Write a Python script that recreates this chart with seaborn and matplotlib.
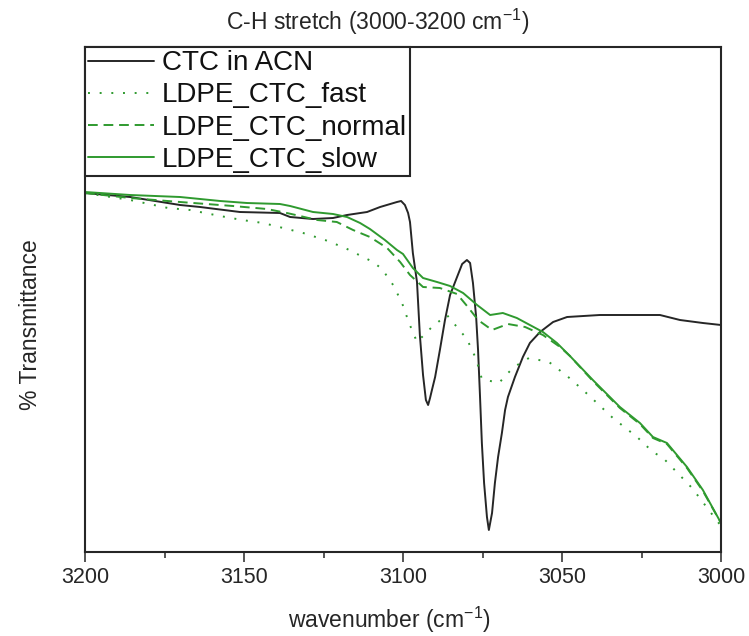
import numpy as np
import pandas as pd
import matplotlib
matplotlib.use("Agg")
import matplotlib.pyplot as plt
import seaborn as sns
from matplotlib.ticker import MultipleLocator

# ---------------- data ----------------
wn_ctc = [3200, 3185.8, 3170.1, 3163.8, 3151.3, 3138.7, 3135.5, 3128.3, 3122.0, 3117.6,
          3111.3, 3107.2, 3101.9, 3100.6, 3099.4, 3098.4, 3097.8, 3096.9, 3095.6, 3094.7,
          3093.7, 3092.8, 3092.1, 3091.5, 3090.9, 3089.9, 3088.4, 3086.8, 3085.2, 3083.0,
          3081.4, 3079.9, 3078.9, 3078.0, 3077.0, 3076.4, 3075.8, 3075.2, 3074.5, 3073.6,
          3073.0, 3072.0, 3071.1, 3070.1, 3068.9, 3067.9, 3067.0, 3064.8, 3062.3, 3060.1,
          3056.9, 3052.8, 3048.4, 3038.1, 3019.2, 3012.9, 3005.7, 3000]
t_ctc = [71.0, 70.2, 68.6, 68.2, 67.2, 67.0, 66.2, 65.8, 66.0, 66.6,
         67.2, 68.2, 69.2, 69.4, 68.6, 67.0, 65.2, 59.0, 53.2, 42.6,
         34.6, 29.6, 28.6, 30.0, 31.6, 34.2, 39.6, 45.6, 50.6, 54.2,
         56.8, 57.6, 57.0, 53.0, 46.2, 39.6, 30.6, 21.0, 13.0, 6.2,
         3.6, 7.0, 13.0, 18.2, 23.0, 27.6, 30.2, 34.2, 38.2, 41.0,
         43.2, 45.2, 46.2, 46.6, 46.6, 45.6, 45.0, 44.6]

wn_fast = [3200, 3185.8, 3173.9, 3167.0, 3157.5, 3150.6, 3144.0, 3137.7, 3131.4, 3124.5,
           3118.2, 3109.4, 3106.6, 3103.1, 3100.3, 3098.1, 3095.6, 3090.9, 3086.2, 3079.9,
           3077.0, 3075.2, 3069.8, 3067.9, 3065.1, 3060.4, 3054.1, 3048.4, 3043.4, 3039.0,
           3034.0, 3026.4, 3021.4, 3018.2, 3009.1, 3000]
t_fast = [71.0, 69.6, 68.0, 67.6, 66.4, 65.6, 65.0, 64.0, 63.0, 61.6,
          60.0, 57.2, 55.8, 52.6, 49.0, 45.0, 41.2, 44.2, 46.6, 41.8,
          37.8, 33.8, 33.0, 34.4, 36.2, 38.0, 37.2, 34.4, 31.6, 29.0,
          26.0, 22.2, 19.2, 18.0, 12.0, 4.4]

wn_normal = [3200, 3185.8, 3170.1, 3153.5, 3142.8, 3136.5, 3132.4, 3127.0, 3120.8, 3115.7,
             3110.4, 3105.0, 3100.9, 3097.8, 3093.7, 3088.4, 3083.0, 3079.6, 3076.4, 3072.0,
             3067.0, 3061.6, 3056.0, 3050.6, 3047.5, 3040.3, 3031.8, 3025.5, 3021.4, 3017.0,
             3010.7, 3005.7, 3000]
t_normal = [71.0, 70.0, 69.2, 68.4, 67.8, 67.0, 66.4, 65.6, 65.2, 63.6,
            62.2, 60.0, 57.2, 54.6, 52.2, 52.0, 50.8, 48.2, 45.6, 43.6,
            44.8, 44.2, 42.6, 40.2, 38.4, 33.4, 28.0, 24.8, 22.0, 20.8,
            16.0, 11.4, 5.0]

wn_slow = [3200, 3185.8, 3170.1, 3157.5, 3149.1, 3138.7, 3135.5, 3128.3, 3122.0, 3117.6,
           3113.5, 3110.4, 3105.7, 3101.9, 3100.0, 3096.9, 3093.7, 3089.3, 3085.2, 3081.1,
           3076.7, 3072.6, 3068.6, 3064.2, 3060.1, 3056.0, 3051.6, 3047.5, 3040.3, 3031.8,
           3025.5, 3021.4, 3017.0, 3010.7, 3005.7, 3000]
t_slow = [71.2, 70.6, 70.2, 69.4, 69.0, 68.8, 68.4, 67.2, 66.8, 66.2,
          65.0, 63.8, 61.6, 59.6, 58.8, 56.0, 54.0, 53.2, 52.4, 51.0,
          48.6, 46.6, 47.0, 46.0, 44.6, 43.2, 41.0, 38.4, 33.6, 28.2,
          25.0, 22.2, 21.0, 16.2, 11.6, 5.0]

labels = ["CTC in ACN", "LDPE_CTC_fast", "LDPE_CTC_normal", "LDPE_CTC_slow"]
x_ticks = [3200, 3150, 3100, 3050, 3000]

# ---------------- style ----------------
sns.set_style("ticks")
plt.rcParams['font.family'] = ['Liberation Sans', 'DejaVu Sans']
plt.rcParams['mathtext.fontset'] = 'custom'
plt.rcParams['mathtext.rm'] = 'Liberation Sans'
plt.rcParams['mathtext.it'] = 'Liberation Sans:italic'
plt.rcParams['mathtext.bf'] = 'Liberation Sans:bold'

black = '#262626'
green = '#2f9a2f'
lw = 1.4

fig = plt.figure(figsize=(7.49, 6.36), dpi=100)
ax = fig.add_axes([85/749, 1 - 552/636, (721 - 85)/749, (552 - 47)/636])

series = [
    (wn_ctc, t_ctc, black, '-'),
    (wn_fast, t_fast, green, (0, (1, 5))),
    (wn_normal, t_normal, green, (0, (5, 3))),
    (wn_slow, t_slow, green, '-'),
]
for (xs, ys, c, ls), lab in zip(series, labels):
    df = pd.DataFrame({"wavenumber": xs, "T": ys})
    sns.lineplot(data=df, x="wavenumber", y="T", ax=ax, color=c, linestyle=ls,
                 linewidth=lw, label=lab, sort=False, estimator=None)

ax.set_xlim(3200, 3000)
ax.set_ylim(-0.8, 100.2)
ax.set_xticks(x_ticks)
ax.set_xticklabels([str(v) for v in x_ticks])
ax.xaxis.set_minor_locator(MultipleLocator(25))
ax.set_yticks([])
ax.tick_params(axis='x', which='major', direction='out', length=7, width=1.1,
               labelsize=15.5, pad=4, colors=black)
ax.tick_params(axis='x', which='minor', direction='out', length=4, width=1.1, colors=black)
for s in ax.spines.values():
    s.set_visible(True)
    s.set_linewidth(1.5)
    s.set_color(black)

ax.set_xlabel("wavenumber (cm$^{-1}$)", fontsize=16.5, color=black)
ax.xaxis.set_label_coords((389 - 85) / 636, -0.104)
ax.set_ylabel("% Transmittance", fontsize=16.5, color=black)
ax.yaxis.set_label_coords(-0.068, 0.45)
ax.set_title("C-H stretch (3000-3200 cm$^{-1}$)", fontsize=16.5, color=black, pad=12,
             x=(378 - 85) / 636)

leg = ax.legend(loc='upper left', bbox_to_anchor=(0, 1), borderaxespad=0,
                fontsize=20, frameon=True, fancybox=False, edgecolor=black,
                framealpha=1, handlelength=2.35, handletextpad=0.3,
                labelspacing=0.22, borderpad=0.12)
leg.get_frame().set_linewidth(1.5)
for t in leg.get_texts():
    t.set_color('#111111')

fig.savefig("out.png", dpi=100)
